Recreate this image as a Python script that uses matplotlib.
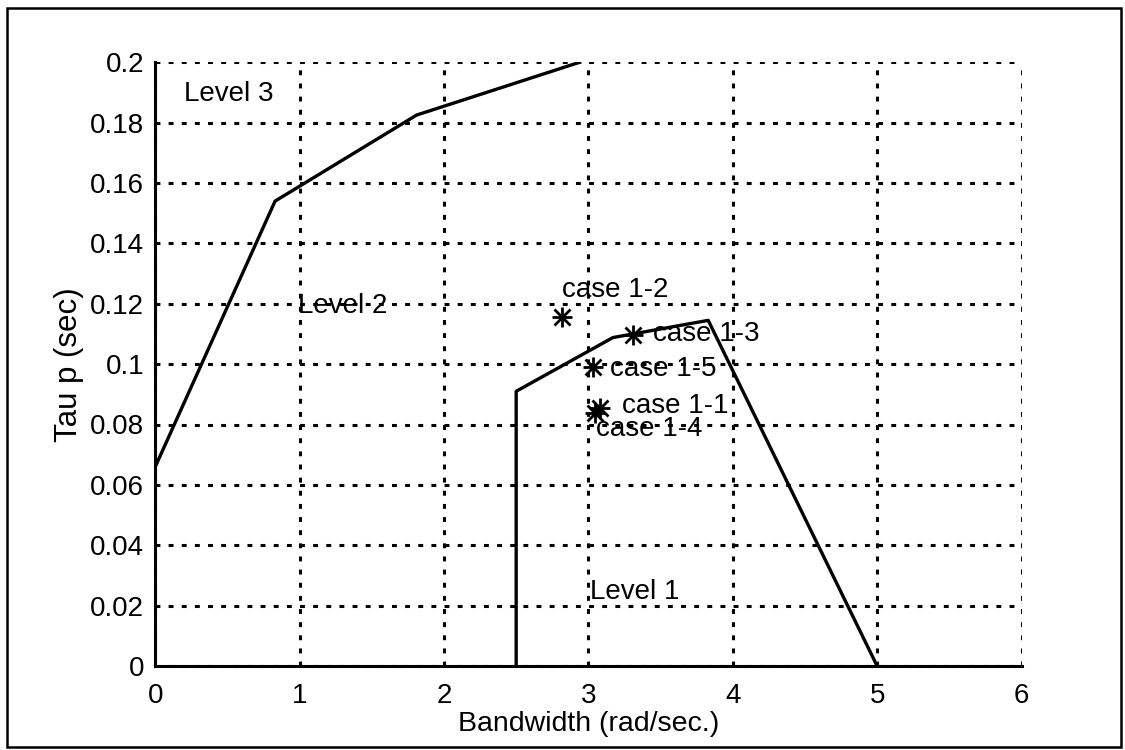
import matplotlib.pyplot as plt
from matplotlib.patches import Rectangle

plt.rcParams["font.family"] = ["Liberation Sans", "DejaVu Sans"]

# level 3 / level 2 boundary
upper_x = [0.0, 0.83, 1.81, 2.94]
upper_y = [0.066, 0.154, 0.1825, 0.200]

# level 2 / level 1 boundary
lower_x = [2.50, 2.50, 3.17, 3.83, 5.00]
lower_y = [0.000, 0.091, 0.1088, 0.1145, 0.000]

# flight test cases
case_names = ["case 1-2", "case 1-3", "case 1-5", "case 1-1", "case 1-4"]
case_x = [2.82, 3.31, 3.03, 3.08, 3.045]
case_y = [0.1157, 0.1097, 0.0992, 0.0855, 0.0838]
label_x = [2.82, 3.45, 3.15, 3.23, 3.05]
label_y = [0.1245, 0.1100, 0.0985, 0.0860, 0.0785]

level_names = ["Level 3", "Level 2", "Level 1"]
level_x = [0.20, 0.99, 3.01]
level_y = [0.1895, 0.1192, 0.0245]

x_ticks = [0, 1, 2, 3, 4, 5, 6]
y_ticks = [0, 0.02, 0.04, 0.06, 0.08, 0.1, 0.12, 0.14, 0.16, 0.18, 0.2]
y_tick_labels = ["0", "0.02", "0.04", "0.06", "0.08", "0.1", "0.12", "0.14", "0.16", "0.18", "0.2"]

FS = 20

fig = plt.figure(figsize=(11.25, 7.5), dpi=100)
ax = fig.add_axes([0.138, 0.112, 0.770, 0.805])

ax.plot(upper_x, upper_y, color="black", linewidth=2.4)
ax.plot(lower_x, lower_y, color="black", linewidth=2.4)

for cx, cy in zip(case_x, case_y):
    ax.plot(cx, cy, marker="+", color="black", markersize=14, markeredgewidth=2.0)
    ax.plot(cx, cy, marker="x", color="black", markersize=11, markeredgewidth=2.0)

for name, tx, ty in zip(case_names, label_x, label_y):
    ax.text(tx, ty, name, fontsize=FS, ha="left", va="center")

for name, tx, ty in zip(level_names, level_x, level_y):
    ax.text(tx, ty, name, fontsize=FS, ha="left", va="center")

ax.set_xlim(0, 6)
ax.set_ylim(0, 0.2)
ax.set_xticks(x_ticks)
ax.set_yticks(y_ticks)
ax.set_yticklabels(y_tick_labels)
ax.tick_params(labelsize=FS, length=0)
ax.tick_params(axis="x", pad=12)
ax.tick_params(axis="y", pad=8)
ax.grid(True, color="black", linestyle=(0, (1.6, 2.7)), linewidth=2.2)
ax.spines["top"].set_visible(False)
ax.spines["right"].set_visible(False)
ax.spines["left"].set_linewidth(2.2)
ax.spines["bottom"].set_linewidth(2.2)
ax.set_axisbelow(True)

ax.set_xlabel("Bandwidth (rad/sec.)", fontsize=20.5, labelpad=2)
ax.set_ylabel("Tau p (sec)", fontsize=22.5, labelpad=4)

fig.patches.append(Rectangle((0.006, 0.004), 0.990, 0.985, transform=fig.transFigure,
                             fill=False, edgecolor="black", linewidth=1.8))

fig.savefig("out.png", dpi=100)
